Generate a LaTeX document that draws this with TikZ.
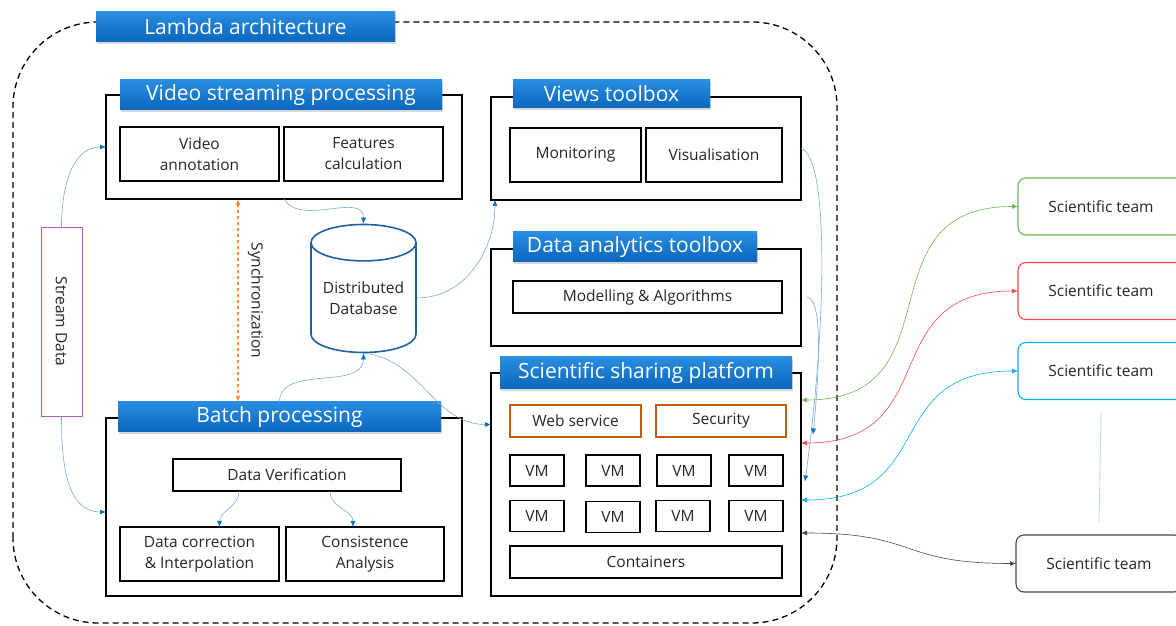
\documentclass[tikz,border=0pt]{standalone}
\usepackage{fontspec}
\setmainfont{Open Sans}
\usetikzlibrary{positioning, shapes.geometric, shadows, arrows.meta}
\definecolor{bannertop}{RGB}{41,141,224}
\definecolor{bannerbot}{RGB}{10,102,188}
\definecolor{lineblue}{RGB}{120,170,220}
\definecolor{tipblue}{RGB}{0,112,192}
\definecolor{txtgray}{RGB}{38,38,38}
\definecolor{webbrown}{RGB}{197,90,17}
\definecolor{purpleedge}{RGB}{170,90,205}
\definecolor{dbblue}{RGB}{31,96,160}
\definecolor{syncorange}{RGB}{255,140,40}
\definecolor{teamgreen}{RGB}{112,180,80}
\definecolor{teamred}{RGB}{255,70,70}
\definecolor{teamcyan}{RGB}{0,176,240}
\definecolor{teamgray}{RGB}{70,70,70}
\tikzset{frame/.style={draw, line width=1.2pt, fill=white, inner sep=0pt, outer sep=0pt},
block/.style={draw, line width=1.1pt, fill=white, inner sep=0pt, outer sep=0pt, align=center, text=txtgray, font=\fontsize{15.5}{21}\selectfont},
banner/.style={top color=bannertop, bottom color=bannerbot, text=white, inner sep=0pt, outer sep=0pt, font=\fontsize{21}{24}\selectfont, drop shadow={opacity=0.3, shadow xshift=1pt, shadow yshift=-2pt}},
vm/.style={block, minimum width=54pt, minimum height=31pt},
team/.style={block, rounded corners=8pt, minimum width=166pt, minimum height=57pt},
line/.style={-{Latex[length=6pt,width=5pt,color=tipblue]}, draw=lineblue, line width=0.6pt},
twoway/.style={{Latex[length=6pt,width=5pt]}-{Latex[length=6pt,width=5pt]}, line width=0.6pt, looseness=1.4}
}

\begin{document}
\begin{tikzpicture}[x=1pt, y=1pt]
\useasboundingbox (0,0) rectangle (1176,626);
\clip (0,0) rectangle (1176,626);
\draw[dashed, dash pattern=on 6pt off 4pt, line width=1.3pt, rounded corners=85pt] (13,3) rectangle (837,604);
\node[banner, minimum width=299pt, minimum height=30pt] (lam) at (245.5,599) {Lambda architecture};

% streaming layer
\node[frame, minimum width=356pt, minimum height=104pt] (vsp) at (284,479) {};
\node[banner, minimum width=322pt, minimum height=30pt] (vspb) at (281,531) {Video streaming processing};
\node[block, minimum width=159pt, minimum height=54pt] (va) at (199.5,472) {Video\\annotation};
\node[block, minimum width=159pt, minimum height=54pt, right=5pt of va] (fc) {Features\\calculation};

% batch layer
\node[frame, minimum width=356pt, minimum height=178pt] (bp) at (284,119) {};
\node[banner, minimum width=323pt, minimum height=30pt] (bpb) at (279.5,209) {Batch processing};
\node[block, minimum width=228pt, minimum height=32pt] (dv) at (287,151) {Data Verification};
\node[block, minimum width=159pt, minimum height=54pt] (dc) at (199.5,72) {Data correction\\\& Interpolation};
\node[block, minimum width=158pt, minimum height=54pt] (ca) at (365,72) {Consistence\\Analysis};

\node[draw=purpleedge, line width=0.9pt, fill=white, minimum width=41pt, minimum height=189pt, inner sep=0pt] (sd) at (61.5,304.5) {};
\node[rotate=-90, text=txtgray, font=\fontsize{15.5}{21}\selectfont] at (sd) {Stream Data};
\node[cylinder, shape border rotate=90, aspect=0.45, draw=dbblue, line width=1.6pt, fill=white, minimum width=105pt, minimum height=128pt, inner sep=0pt, align=center, text=txtgray, font=\fontsize{15.5}{21}\selectfont] (db) at (363.5,328) {Distributed\\Database};

% right column
\node[frame, minimum width=310pt, minimum height=103pt] (vt) at (646,477.5) {};
\node[banner, minimum width=197pt, minimum height=28pt] (vtb) at (611.5,532) {Views toolbox};
\node[block, minimum width=131pt, minimum height=54pt] (mon) at (575.5,471) {Monitoring};
\node[block, minimum width=136pt, minimum height=54pt] (vis) at (714,471) {Visualisation};
\node[frame, minimum width=310pt, minimum height=97pt] (dat) at (646,328.5) {};
\node[banner, minimum width=244pt, minimum height=30pt] (datb) at (635,379) {Data analytics toolbox};
\node[block, minimum width=269pt, minimum height=32pt] (mod) at (647.5,329) {Modelling \& Algorithms};
\node[frame, minimum width=310pt, minimum height=223pt] (ssp) at (646,141.5) {};
\node[banner, minimum width=292pt, minimum height=32pt] (sspb) at (646,253) {Scientific sharing platform};
\node[block, draw=webbrown, minimum width=131pt, minimum height=32pt] (ws) at (575.5,205) {Web service};
\node[block, draw=webbrown, minimum width=130pt, minimum height=32pt] (sec) at (721,205) {Security};
\node[vm] (vma) at (537,155.5) {VM};
\node[vm] (vmb) at (613,155.5) {VM};
\node[vm] (vmc) at (684,155.5) {VM};
\node[vm] (vmd) at (756,155.5) {VM};
\node[vm] (vme) at (537,110) {VM};
\node[vm] (vmf) at (613,109) {VM};
\node[vm] (vmg) at (683,110) {VM};
\node[vm] (vmh) at (756,110) {VM};
\node[block, minimum width=272pt, minimum height=32pt] (cont) at (646,64) {Containers};

% teams
\node[team, draw=teamgreen] (ta) at (1101,419.5) {Scientific team};
\node[team, draw=teamred] (tb) at (1101,335) {Scientific team};
\node[team, draw=teamcyan] (tc) at (1101,255) {Scientific team};
\node[team, draw=teamgray] (td) at (1099,62.5) {Scientific team};
\draw[densely dotted, draw=lineblue, line width=0.8pt] ([yshift=-13pt]tc.south) -- ([yshift=13pt]td.north);

\draw[dashed, syncorange, line width=1.2pt, {Latex[length=6pt,width=5pt]}-{Latex[length=6pt,width=5pt]}] ([xshift=-46pt]vsp.south) -- ([xshift=-41.5pt]bpb.north) node[midway, right=6pt, rotate=-90, anchor=south, text=txtgray, font=\fontsize{15.5}{21}\selectfont]{Synchronization};

\draw[line] (sd.north) to[out=90,in=180] (vsp.west);
\draw[line] (sd.south) to[out=-90,in=180] ([yshift=-5pt]bp.west);
\draw[line] (vsp.south) to[out=-60,in=90] (db.north);
\draw[line] (db.east) to[out=0,in=-90] ([xshift=4pt]vt.south west);
\draw[line] (bpb.north) to[out=90,in=-90] (db.south);
\draw[draw=lineblue, line width=0.6pt, -{Latex[length=6pt,width=5pt,color=tipblue]}] (db.south) to[out=-5,in=180] ([yshift=60pt]ssp.west);
\draw[line] ([xshift=-48pt]dv.south) to[out=-90,in=90] ([xshift=20pt]dc.north);
\draw[line] ([xshift=43pt]dv.south) to[out=-90,in=90] ([xshift=-12pt]ca.north);
\draw[line] (vt.east) .. controls +(28,-8) and +(22,160) .. ([xshift=4pt,yshift=3pt]ssp.east);
\draw[line] ([xshift=6pt]dat.east) .. controls +(14,0) and +(8,80) .. ([xshift=12pt,yshift=50pt]ssp.east);

\draw[twoway, draw=teamgreen] ([yshift=84.5pt]ssp.east) to[out=0,in=180] (ta.west);
\draw[twoway, draw=teamred] ([yshift=41.5pt]ssp.east) to[out=0,in=180] (tb.west);
\draw[twoway, draw=teamcyan] ([yshift=-15.5pt]ssp.east) to[out=0,in=180] (tc.west);
\draw[twoway, draw=teamgray] ([yshift=-48.5pt]ssp.east) to[out=0,in=180] (td.west);
\end{tikzpicture}
\end{document}
